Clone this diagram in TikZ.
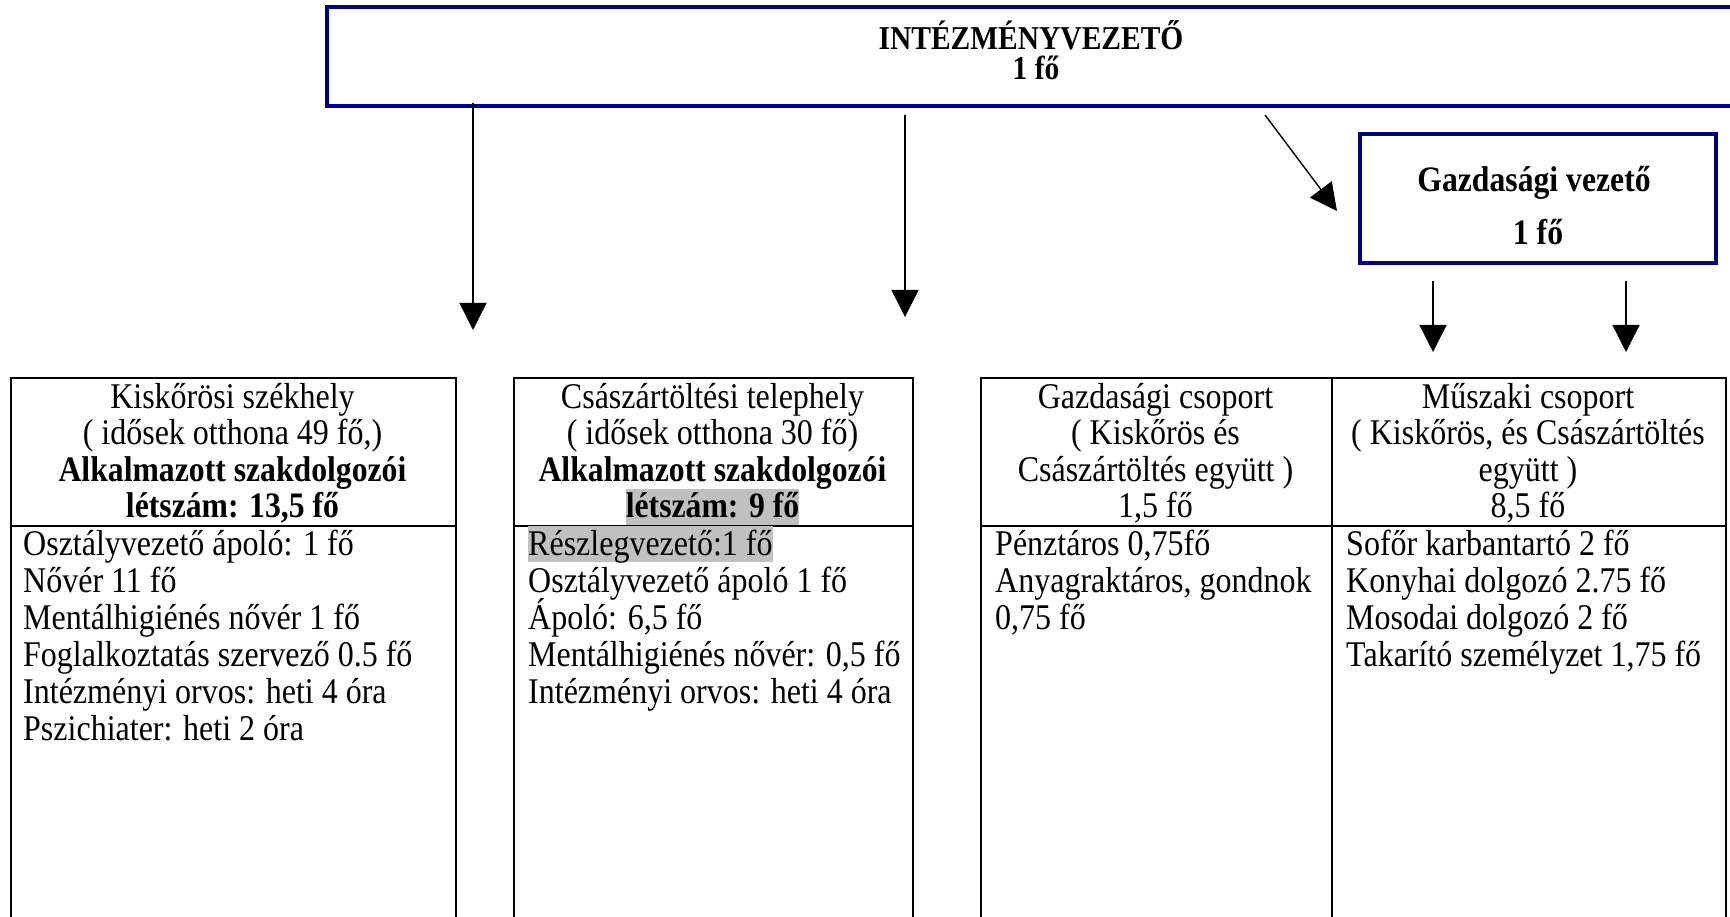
\documentclass[tikz,border=0pt]{standalone}
\usepackage{fontspec}
\setmainfont{Liberation Serif}
\usetikzlibrary{arrows.meta}
\definecolor{boxblue}{RGB}{0,0,128}
\definecolor{hlgray}{RGB}{192,192,192}
\newcommand{\vstr}[1]{\scalebox{1}[1.13]{#1}}
\begin{document}
\begin{tikzpicture}[x=1pt,y=-1pt,
  txt/.style={inner sep=0pt, anchor=base, font=\fontsize{32}{36}\selectfont},
  ltxt/.style={txt, anchor=base west},
  btxt/.style={txt, font=\fontsize{31.7}{36}\selectfont\bfseries},
  ttxt/.style={txt, font=\fontsize{29.5}{34}\selectfont\bfseries},
  bluebox/.style={draw=boxblue, line width=3.3pt, inner sep=0pt, fill=white},
  cell/.style={draw=black, line width=2pt, inner sep=0pt, anchor=north west},
  arr/.style={line width=1.4pt, -{Triangle[length=27pt,width=27pt]}},
  hilite/.style={fill=hlgray, text height=29pt, text depth=7pt}
]
\clip (0,0) rectangle (1730,917);
\fill[white] (0,0) rectangle (1730,917);

% top box
\node[bluebox, minimum width=1415pt, minimum height=99pt] (top) at (1034.5,56.5) {};
\node[ttxt] (topa) at (1031,50) {\vstr{INTÉZMÉNYVEZETŐ}};
\node[ttxt] (topb) at (1036,80) {\vstr{1 fő}};

% economic leader box
\node[bluebox, minimum width=356pt, minimum height=129pt] (gv) at (1538,198.5) {};
\node[btxt] (gva) at (1534,192) {\vstr{Gazdasági vezető}};
\node[btxt] (gvb) at (1538,245) {\vstr{1 fő}};

% arrows
\coordinate (a1s) at (473,103);  \coordinate (a1e) at (473,330);
\coordinate (a2s) at (905,115);  \coordinate (a2e) at (905,317);
\coordinate (a3s) at (1265,115); \coordinate (a3e) at (1337,211);
\coordinate (a4s) at (1433,281); \coordinate (a4e) at (1433,352);
\coordinate (a5s) at (1626,281); \coordinate (a5e) at (1626,352);
\draw[arr] (a1s) -- (a1e);
\draw[arr] (a2s) -- (a2e);
\draw[arr] (a3s) -- (a3e);
\draw[arr] (a4s) -- (a4e);
\draw[arr] (a5s) -- (a5e);

% table cells
\node[cell, minimum width=445pt, minimum height=148pt] (t1h) at (10,377) {};
\node[cell, minimum width=445pt, minimum height=420pt] (t1b) at (10,525) {};
\node[cell, minimum width=399pt, minimum height=148pt] (t2h) at (513,377) {};
\node[cell, minimum width=399pt, minimum height=420pt] (t2b) at (513,525) {};
\node[cell, minimum width=351pt, minimum height=148pt] (t3h) at (980,377) {};
\node[cell, minimum width=351pt, minimum height=420pt] (t3b) at (980,525) {};
\node[cell, minimum width=394pt, minimum height=148pt] (t4h) at (1331,377) {};
\node[cell, minimum width=394pt, minimum height=420pt] (t4b) at (1331,525) {};

% table 1
\node[txt]  (k1) at (232.5,408)   {\vstr{Kiskőrösi székhely}};
\node[txt]  (k2) at (232.5,444.5) {\vstr{( idősek otthona 49 fő,)}};
\node[btxt] (k3) at (232.5,481)   {\vstr{Alkalmazott szakdolgozói}};
\node[btxt] (k4) at (232.5,517.5) {\vstr{létszám: 13,5 fő}};
\node[ltxt] (kb1) at (23,555) {\vstr{Osztályvezető ápoló: 1 fő}};
\node[ltxt] (kb2) at (23,592) {\vstr{Nővér 11 fő}};
\node[ltxt] (kb3) at (23,629) {\vstr{Mentálhigiénés nővér 1 fő}};
\node[ltxt] (kb4) at (23,666) {\vstr{Foglalkoztatás szervező 0.5 fő}};
\node[ltxt] (kb5) at (23,703) {\vstr{Intézményi orvos: heti 4 óra}};
\node[ltxt] (kb6) at (23,740) {\vstr{Pszichiater: heti 2 óra}};

% table 2
\node[txt]  (c1) at (712.5,408)   {\vstr{Császártöltési telephely}};
\node[txt]  (c2) at (712.5,444.5) {\vstr{( idősek otthona 30 fő)}};
\node[btxt] (c3) at (712.5,481)   {\vstr{Alkalmazott szakdolgozói}};
\node[btxt, hilite] (c4) at (712.5,517.5) {\vstr{létszám: 9 fő}};
\node[ltxt, hilite] (cb1) at (528,555) {\vstr{Részlegvezető:1 fő}};
\node[ltxt] (cb2) at (528,592) {\vstr{Osztályvezető ápoló 1 fő}};
\node[ltxt] (cb3) at (528,629) {\vstr{Ápoló: 6,5 fő}};
\node[ltxt] (cb4) at (528,666) {\vstr{Mentálhigiénés nővér: 0,5 fő}};
\node[ltxt] (cb5) at (528,703) {\vstr{Intézményi orvos: heti 4 óra}};

% table 3
\node[txt] (g1) at (1155.5,408)   {\vstr{Gazdasági csoport}};
\node[txt] (g2) at (1155.5,444.5) {\vstr{( Kiskőrös és}};
\node[txt] (g3) at (1155.5,481)   {\vstr{Császártöltés együtt )}};
\node[txt] (g4) at (1155.5,517.5) {\vstr{1,5 fő}};
\node[ltxt] (gb1) at (995,555) {\vstr{Pénztáros 0,75fő}};
\node[ltxt] (gb2) at (995,592) {\vstr{Anyagraktáros, gondnok}};
\node[ltxt] (gb3) at (995,629) {\vstr{0,75 fő}};

% table 4
\node[txt] (m1) at (1528,408)   {\vstr{Műszaki csoport}};
\node[txt] (m2) at (1528,444.5) {\vstr{( Kiskőrös, és Császártöltés}};
\node[txt] (m3) at (1528,481)   {\vstr{együtt )}};
\node[txt] (m4) at (1528,517.5) {\vstr{8,5 fő}};
\node[ltxt] (mb1) at (1346,555) {\vstr{Sofőr karbantartó 2 fő}};
\node[ltxt] (mb2) at (1346,592) {\vstr{Konyhai dolgozó 2.75 fő}};
\node[ltxt] (mb3) at (1346,629) {\vstr{Mosodai dolgozó 2 fő}};
\node[ltxt] (mb4) at (1346,666) {\vstr{Takarító személyzet 1,75 fő}};
\end{tikzpicture}
\end{document}
